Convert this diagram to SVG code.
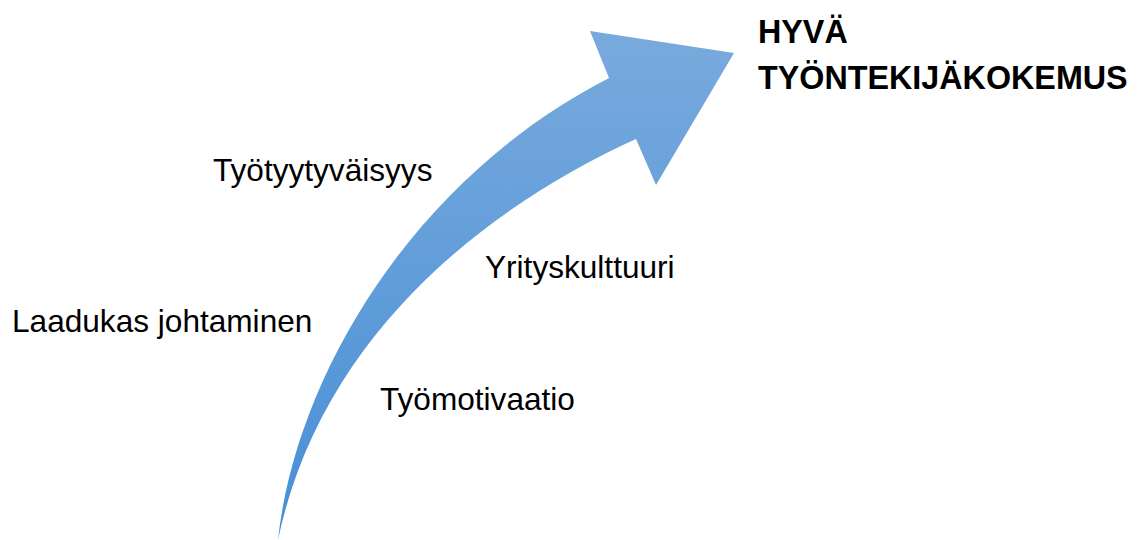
<svg xmlns="http://www.w3.org/2000/svg" width="1145" height="540" viewBox="0 0 1145 540">
<style>
.t{font-family:"Liberation Sans",Arial,sans-serif;font-size:31.6px;fill:#000}
.b{font-family:"Liberation Sans",Arial,sans-serif;font-size:32.3px;font-weight:bold;fill:#000}
</style>
<defs>
<linearGradient id="g" x1="0" y1="0" x2="0" y2="1">
<stop offset="0" stop-color="#79aadd"/>
<stop offset="1" stop-color="#478fd6"/>
</linearGradient>
</defs>
<rect width="1145" height="540" fill="#fff"/>
<g id="arrow">
<path d="M278,540 C295,380 410,180 609,78 L590,31 L734,53 L656,185 L636,139 C480,210 320,340 278,540 Z" fill="url(#g)"/>
</g>
<g id="title"><text class="b" x="758" y="43">HYVÄ</text><text class="b" x="758" y="89">TYÖNTEKIJÄKOKEMUS</text></g>
<g id="n1"><text class="t" x="213" y="181">Työtyytyväisyys</text></g>
<g id="n2"><text class="t" x="485" y="278">Yrityskulttuuri</text></g>
<g id="n3"><text class="t" x="12" y="332">Laadukas johtaminen</text></g>
<g id="n4"><text class="t" x="380" y="410">Työmotivaatio</text></g>
<g id="connectors"></g>
</svg>
